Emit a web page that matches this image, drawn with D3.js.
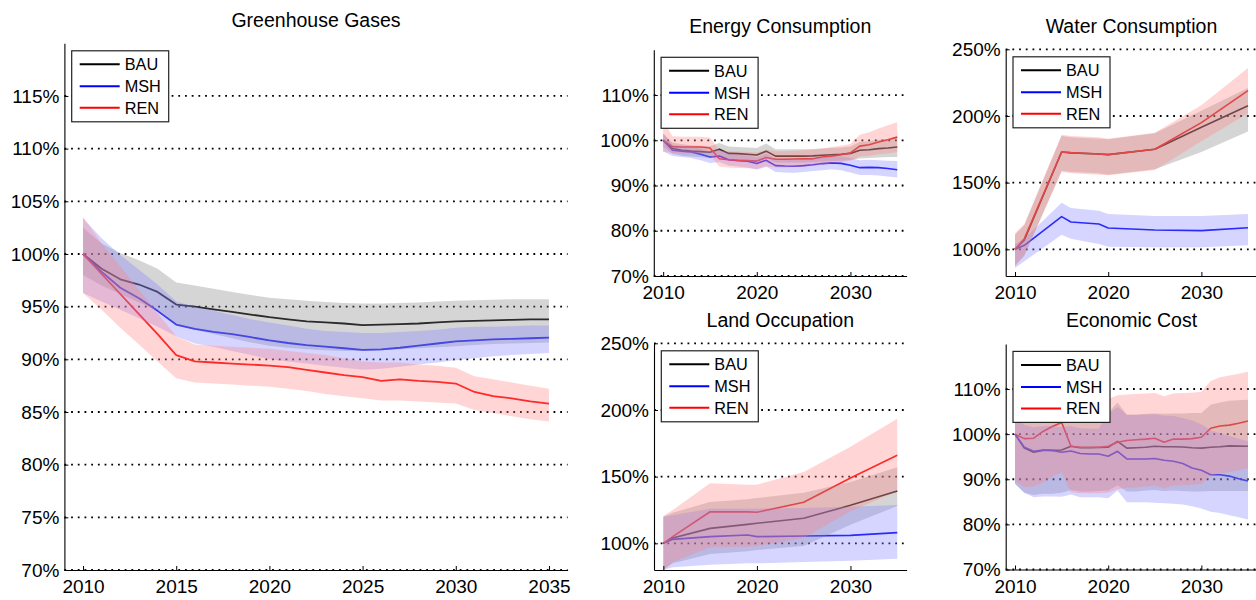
<!DOCTYPE html>
<html>
<head>
<meta charset="utf-8">
<script src="https://cdn.jsdelivr.net/npm/d3@7"></script>
<style>
  html, body { margin: 0; padding: 0; background: #fff; }
  svg { display: block; font-family: "Liberation Sans", Arial, Helvetica, sans-serif; }
</style>
</head>
<body>
<svg id="chart" width="1256" height="600"></svg>
<script>
// Scenario names (legend order)
const scenarios = ["BAU", "MSH", "REN"];

// ---- Greenhouse Gases (% of 2010) ----
const ghgYears = [2010, 2011, 2012, 2013, 2014, 2015, 2016, 2017, 2018, 2019, 2020, 2021, 2022,
                  2023, 2024, 2025, 2026, 2027, 2028, 2029, 2030, 2031, 2032, 2033, 2034, 2035];
const ghgBAU   = [100, 98.6, 97.6, 97.1, 96.4, 95.2, 95.0, 94.75, 94.5, 94.25, 94.0, 93.8, 93.6, 93.5, 93.4, 93.25, 93.3, 93.35, 93.4, 93.5, 93.6, 93.65, 93.7, 93.75, 93.8, 93.8];
const ghgBAUHi = [102.5, 101.0, 100.1, 99.4, 98.6, 97.3, 97.0, 96.7, 96.4, 96.1, 95.85, 95.7, 95.55, 95.45, 95.35, 95.3, 95.3, 95.35, 95.4, 95.5, 95.55, 95.6, 95.65, 95.7, 95.7, 95.7];
const ghgBAULo = [98.0, 97.0, 96.2, 95.4, 94.6, 93.2, 92.8, 92.4, 92.0, 91.6, 91.3, 91.1, 90.95, 90.85, 90.8, 90.8, 90.85, 90.95, 91.05, 91.15, 91.25, 91.35, 91.45, 91.5, 91.55, 91.6];
const ghgMSH   = [100, 98.3, 96.8, 95.8, 94.6, 93.3, 92.9, 92.6, 92.4, 92.1, 91.8, 91.55, 91.35, 91.2, 91.05, 90.9, 90.95, 91.1, 91.3, 91.5, 91.7, 91.8, 91.9, 91.95, 92.0, 92.05];
const ghgMSHHi = [103.4, 101.5, 99.9, 98.5, 97.1, 95.5, 95.0, 94.6, 94.2, 93.8, 93.5, 93.2, 92.9, 92.7, 92.6, 92.5, 92.5, 92.6, 92.7, 92.8, 93.0, 93.1, 93.1, 93.15, 93.2, 93.2];
const ghgMSHLo = [96.3, 95.5, 94.7, 93.9, 93.1, 92.2, 91.5, 91.2, 90.8, 90.4, 90.0, 89.8, 89.6, 89.4, 89.2, 89.0, 89.1, 89.3, 89.5, 89.7, 89.9, 90.1, 90.3, 90.4, 90.5, 90.6];
const ghgREN   = [100, 98.1, 96.2, 94.3, 92.4, 90.4, 89.8, 89.7, 89.6, 89.5, 89.4, 89.25, 89.0, 88.75, 88.5, 88.3, 87.95, 88.1, 87.95, 87.85, 87.7, 86.9, 86.5, 86.3, 86.0, 85.8];
const ghgRENHi = [103.5, 101.0, 98.8, 96.6, 94.4, 92.2, 91.4, 91.3, 91.2, 91.1, 91.0, 90.8, 90.6, 90.4, 90.1, 89.8, 89.7, 89.7, 89.5, 89.4, 89.2, 88.4, 88.1, 87.8, 87.5, 87.2];
const ghgRENLo = [96.3, 94.7, 93.0, 91.4, 89.8, 88.2, 87.8, 87.7, 87.6, 87.5, 87.4, 87.2, 87.0, 86.7, 86.5, 86.3, 86.1, 86.1, 86.0, 85.9, 85.8, 85.2, 84.9, 84.6, 84.3, 84.1];

// ---- Energy Consumption ----
const enYears = ghgYears;
const enBAU   = [100, 98.2, 97.8, 97.6, 97.5, 97.35, 98.0, 97.1, 97.05, 96.9, 96.75, 97.6, 96.5, 96.5, 96.5, 96.5, 96.55, 96.7, 96.8, 96.9, 97.1, 97.8, 97.9, 98.15, 98.3, 98.5];
const enBAUHi = [101.5, 99.5, 99.1, 98.9, 98.8, 98.7, 99.4, 98.6, 98.5, 98.4, 98.3, 99.3, 98.0, 98.0, 98.0, 98.0, 98.1, 98.2, 98.3, 98.4, 98.6, 99.6, 99.8, 100.1, 100.3, 100.6];
const enBAULo = [98.5, 97.0, 96.6, 96.4, 96.3, 96.1, 96.7, 95.8, 95.7, 95.5, 95.3, 96.1, 95.1, 95.1, 95.1, 95.1, 95.2, 95.3, 95.4, 95.5, 95.7, 96.0, 96.1, 96.2, 96.3, 96.3];
const enMSH   = [100, 97.8, 97.6, 97.4, 96.9, 96.3, 96.5, 95.7, 95.5, 95.35, 94.85, 95.6, 94.4, 94.3, 94.25, 94.4, 94.6, 94.85, 95.0, 94.9, 94.5, 93.95, 94.0, 93.95, 93.75, 93.5];
const enMSHHi = [101.5, 99.0, 98.8, 98.6, 98.2, 97.6, 97.8, 97.0, 96.8, 96.7, 96.2, 97.0, 95.8, 95.7, 95.7, 95.8, 96.0, 96.3, 96.4, 96.4, 96.1, 95.6, 95.7, 95.6, 95.5, 95.4];
const enMSHLo = [97.5, 96.5, 96.3, 96.1, 95.6, 95.0, 95.2, 94.4, 94.2, 94.0, 93.5, 94.2, 93.0, 92.9, 92.8, 93.0, 93.2, 93.4, 93.6, 93.4, 92.9, 92.3, 92.3, 92.2, 92.0, 91.8];
const enREN   = [100, 98.6, 98.5, 98.5, 98.5, 98.3, 95.9, 95.7, 95.6, 95.5, 95.4, 96.2, 95.8, 95.8, 95.85, 95.9, 95.9, 96.3, 96.5, 96.8, 97.2, 98.7, 99.0, 99.6, 100.1, 100.7];
const enRENHi = [104.3, 100.9, 100.8, 100.8, 100.8, 100.6, 97.8, 97.6, 97.5, 97.4, 97.3, 97.9, 97.6, 97.6, 97.7, 97.8, 97.9, 98.2, 98.5, 98.8, 99.2, 101.2, 101.8, 102.6, 103.3, 104.0];
const enRENLo = [97.5, 97.2, 97.1, 97.1, 97.1, 96.8, 94.2, 94.0, 93.9, 93.8, 93.7, 94.2, 94.0, 94.0, 94.1, 94.2, 94.3, 94.6, 94.9, 95.2, 95.5, 96.4, 96.6, 96.9, 97.1, 97.4];

// ---- Water Consumption ----
const waYears = [2010, 2011, 2015, 2016, 2019, 2020, 2025, 2030, 2035];
const waBAU   = [100, 107, 173, 172.3, 171.5, 171, 175, 191.5, 207.7];
const waBAUHi = [111, 118, 185, 184, 183, 182.5, 187, 204, 221];
const waBAULo = [88, 95, 159, 158, 157, 156, 160, 173, 188.3];
const waMSH   = [100, 103, 124.5, 120.5, 119, 116, 114.5, 114, 116.2];
const waMSHHi = [104, 108, 135, 131, 129, 126.5, 125, 125, 126.5];
const waMSHLo = [86, 91, 111, 108, 104, 102, 101.5, 101.5, 103];
const waREN   = [100, 108, 173, 172.5, 171.5, 171, 175, 195, 219];
const waRENHi = [112, 119, 186, 185, 184, 183, 187.5, 208, 236];
const waRENLo = [87, 96, 158, 157, 156, 155.5, 159.5, 181, 202];

// ---- Land Occupation ----
const laYears = [2010, 2011, 2015, 2019, 2020, 2025, 2030, 2035];
const laBAU   = [100, 104, 111.2, 114.2, 115, 118.75, 128.5, 139.3];
const laBAUHi = [120, 123, 131, 133, 134, 138, 146, 157];
const laBAULo = [80, 85, 92, 94, 95, 98, 114, 128];
const laMSH   = [100, 103, 105, 106.2, 105, 105.5, 106, 108];
const laMSHHi = [120, 121, 126, 126, 126, 126.5, 127.5, 128.7];
const laMSHLo = [80, 82, 84, 85, 85, 86, 87, 88.5];
const laREN   = [100, 105, 123.7, 123.6, 123.3, 130.75, 149, 166];
const laRENHi = [120.5, 125, 145, 144, 144, 153.5, 172.5, 193.5];
const laRENLo = [80, 86, 97, 97.5, 98, 104, 124, 139];

// ---- Economic Cost ----
const ecYears = ghgYears;
const ecBAU   = [100, 96.9, 96.0, 96.4, 96.4, 96.5, 97.3, 97.0, 97.0, 97.05, 97.1, 98.4, 96.9, 97.0, 97.1, 97.3, 97.2, 97.2, 97.15, 97.0, 96.9, 97.1, 97.2, 97.4, 97.35, 97.3];
const ecBAUHi = [106, 104, 103.5, 103.8, 104, 104, 104.6, 104.5, 104.5, 104.6, 104.8, 107.0, 104.3, 104.3, 104.5, 104.6, 104.5, 104.6, 104.6, 104.7, 104.7, 106.5, 107.0, 107.4, 107.5, 107.6];
const ecBAULo = [89.0, 87.0, 86.5, 86.8, 86.8, 87.0, 87.6, 87.3, 87.3, 87.4, 87.5, 88.7, 87.3, 87.3, 87.5, 87.6, 87.4, 87.5, 87.4, 87.3, 87.3, 87.4, 87.4, 87.4, 87.4, 87.4];
const ecMSH   = [100, 97.1, 96.2, 96.5, 96.4, 96.0, 96.25, 95.7, 95.6, 95.6, 95.1, 96.2, 94.5, 94.5, 94.5, 94.6, 94.2, 94.0, 93.5, 92.5, 92.0, 91.0, 91.0, 90.7, 90.1, 89.6];
const ecMSHHi = [104, 102, 101.5, 101.8, 101.8, 101.5, 101.8, 101.3, 101.2, 101.2, 104.5, 106.0, 104.3, 104.3, 104.3, 104.4, 104.1, 104.0, 103.6, 103.0, 102.2, 100.8, 100.2, 99.6, 99.0, 98.4];
const ecMSHLo = [89.0, 87.0, 86.0, 86.2, 86.2, 86.1, 86.6, 86.0, 86.0, 86.0, 85.8, 87.5, 84.9, 84.9, 84.9, 84.8, 84.7, 84.6, 84.4, 84.0, 83.5, 82.8, 82.5, 82.0, 81.6, 81.1];
const ecREN   = [100, 99.0, 99.1, 100.6, 101.7, 102.6, 97.3, 97.1, 97.1, 97.1, 97.3, 98.2, 98.6, 98.75, 98.9, 99.1, 98.2, 98.9, 98.9, 99.0, 99.3, 101.3, 101.8, 102.0, 102.4, 102.9];
const ecRENHi = [107, 106.5, 106.6, 107.5, 108.5, 109.5, 107.2, 107.3, 107.4, 107.6, 107.8, 108.6, 108.8, 108.9, 109.0, 109.1, 108.4, 109.0, 109.1, 109.2, 109.4, 111.8, 112.6, 113.0, 113.4, 113.8];
const ecRENLo = [89.5, 88.3, 88.4, 89.3, 90.5, 91.6, 87.1, 86.9, 86.9, 86.9, 87.0, 87.8, 88.1, 88.2, 88.4, 88.6, 88.0, 88.6, 88.7, 88.8, 89.0, 90.8, 91.3, 91.6, 92.0, 92.5];

// ---- Axis tick values ----
const ghgXTicks = [2010, 2015, 2020, 2025, 2030, 2035];
const smallXTicks = [2010, 2020, 2030];
const ghgYTicks = [70, 75, 80, 85, 90, 95, 100, 105, 110, 115];
const pctYTicks = [70, 80, 90, 100, 110];
const bigYTicks = [100, 150, 200, 250];

// ---- Styling ----
const lineColors = ["#000000", "#0000ff", "#ff0000"];
const bandColors = ["#808080", "#8080ff", "#ff8080"];
const bandOpacity = 0.33;

const panels = [
  { title: "Greenhouse Gases", titleY: 27, xRange: [64.4, 567.6], yDomain: [70, 120], yRange: [570, 43.3],
    xTicks: ghgXTicks, yTicks: ghgYTicks, years: ghgYears, lineW: 1.8,
    series: [[ghgBAU, ghgBAULo, ghgBAUHi], [ghgMSH, ghgMSHLo, ghgMSHHi], [ghgREN, ghgRENLo, ghgRENHi]] },
  { title: "Energy Consumption", titleY: 33, xRange: [653.8, 906.6], yDomain: [70, 120], yRange: [276, 49.8],
    xTicks: smallXTicks, yTicks: pctYTicks, years: enYears, lineW: 1.6,
    series: [[enBAU, enBAULo, enBAUHi], [enMSH, enMSHLo, enMSHHi], [enREN, enRENLo, enRENHi]] },
  { title: "Water Consumption", titleY: 33, xRange: [1005.7, 1257.3], yDomain: [80, 250], yRange: [276, 49.3],
    xTicks: smallXTicks, yTicks: bigYTicks, years: waYears, lineW: 1.6,
    series: [[waBAU, waBAULo, waBAUHi], [waMSH, waMSHLo, waMSHHi], [waREN, waRENLo, waRENHi]] },
  { title: "Land Occupation", titleY: 327, xRange: [654, 906.6], yDomain: [80, 250], yRange: [570, 343.3],
    xTicks: smallXTicks, yTicks: bigYTicks, years: laYears, lineW: 1.6,
    series: [[laBAU, laBAULo, laBAUHi], [laMSH, laMSHLo, laMSHHi], [laREN, laRENLo, laRENHi]] },
  { title: "Economic Cost", titleY: 327, xRange: [1005.7, 1257.3], yDomain: [70, 120], yRange: [569.5, 343.9],
    xTicks: smallXTicks, yTicks: pctYTicks, years: ecYears, lineW: 1.6,
    series: [[ecBAU, ecBAULo, ecBAUHi], [ecMSH, ecMSHLo, ecMSHHi], [ecREN, ecRENLo, ecRENHi]] }
];

const svg = d3.select("#chart");
const defs = svg.append("defs");

function drawPanel(p, idx) {
  const x = d3.scaleLinear().domain([2009, 2036]).range(p.xRange);
  const y = d3.scaleLinear().domain(p.yDomain).range(p.yRange);
  const g = svg.append("g");

  const clipId = "plot-clip-" + idx;
  defs.append("clipPath").attr("id", clipId).append("rect")
    .attr("x", p.xRange[0]).attr("y", p.yRange[1])
    .attr("width", p.xRange[1] - p.xRange[0])
    .attr("height", p.yRange[0] - p.yRange[1]);

  // dotted horizontal grid at each labelled tick
  g.append("g").selectAll("line").data(p.yTicks).join("line")
    .attr("x1", p.xRange[0]).attr("x2", p.xRange[1])
    .attr("y1", d => y(d)).attr("y2", d => y(d))
    .attr("stroke", "#000").attr("stroke-width", 1.8)
    .attr("stroke-dasharray", "1.8 4.9");

  const plot = g.append("g").attr("clip-path", `url(#${clipId})`);

  // median lines, drawn beneath the translucent ranges
  const line = d3.line().x((d, i) => x(p.years[i])).y(d => y(d));
  p.series.forEach((s, k) => {
    plot.append("path").datum(s[0]).attr("d", line)
      .attr("fill", "none").attr("stroke", lineColors[k])
      .attr("stroke-width", p.lineW).attr("stroke-linejoin", "round");
  });

  // uncertainty ranges
  const area = d3.area()
    .x((d, i) => x(p.years[i]))
    .y0(d => y(d[0])).y1(d => y(d[1]));
  p.series.forEach((s, k) => {
    plot.append("path").datum(d3.zip(s[1], s[2])).attr("d", area)
      .attr("fill", bandColors[k]).attr("fill-opacity", bandOpacity).attr("stroke", "none");
  });

  // axes
  const yAxis = d3.axisLeft(y).tickValues(p.yTicks).tickFormat(d => d + "%")
    .tickSizeInner(-4).tickSizeOuter(0).tickPadding(5);
  const yG = g.append("g").attr("transform", `translate(${p.xRange[0]},0)`).call(yAxis);

  const xAxis = d3.axisBottom(x).tickValues(p.xTicks).tickFormat(d3.format("d"))
    .tickSizeInner(-4).tickSizeOuter(0).tickPadding(10);
  const xG = g.append("g").attr("transform", `translate(0,${p.yRange[0]})`).call(xAxis);

  [yG, xG].forEach(a => {
    a.attr("font-family", null).attr("font-size", null);
    a.selectAll("text").attr("font-size", "19px").attr("fill", "#000")
      .style("font-family", '"Liberation Sans", Arial, Helvetica, sans-serif');
    a.select(".domain").attr("stroke", "#000").attr("stroke-width", 1.1);
    a.selectAll(".tick line").attr("stroke", "#000").attr("stroke-width", 1);
  });

  // title
  g.append("text")
    .attr("x", (p.xRange[0] + p.xRange[1]) / 2).attr("y", p.titleY)
    .attr("text-anchor", "middle").attr("font-size", "19.5px").attr("fill", "#000")
    .text(p.title);

  // legend
  const lx = p.xRange[0] + 7.3, ly = p.yRange[1] + 7.5;
  const leg = g.append("g").attr("transform", `translate(${lx},${ly})`);
  leg.append("rect").attr("width", 97).attr("height", 71)
    .attr("fill", "#fff").attr("stroke", "#222").attr("stroke-width", 1.2);
  const rows = [13.5, 35.5, 57];
  scenarios.forEach((name, k) => {
    leg.append("line").attr("x1", 8).attr("x2", 48).attr("y1", rows[k]).attr("y2", rows[k])
      .attr("stroke", lineColors[k]).attr("stroke-width", 2);
    leg.append("text").attr("x", 53).attr("y", rows[k]).attr("dy", "0.36em")
      .attr("font-size", "16.3px").attr("fill", "#000").text(name);
  });
}

panels.forEach(drawPanel);
</script>
</body>
</html>
